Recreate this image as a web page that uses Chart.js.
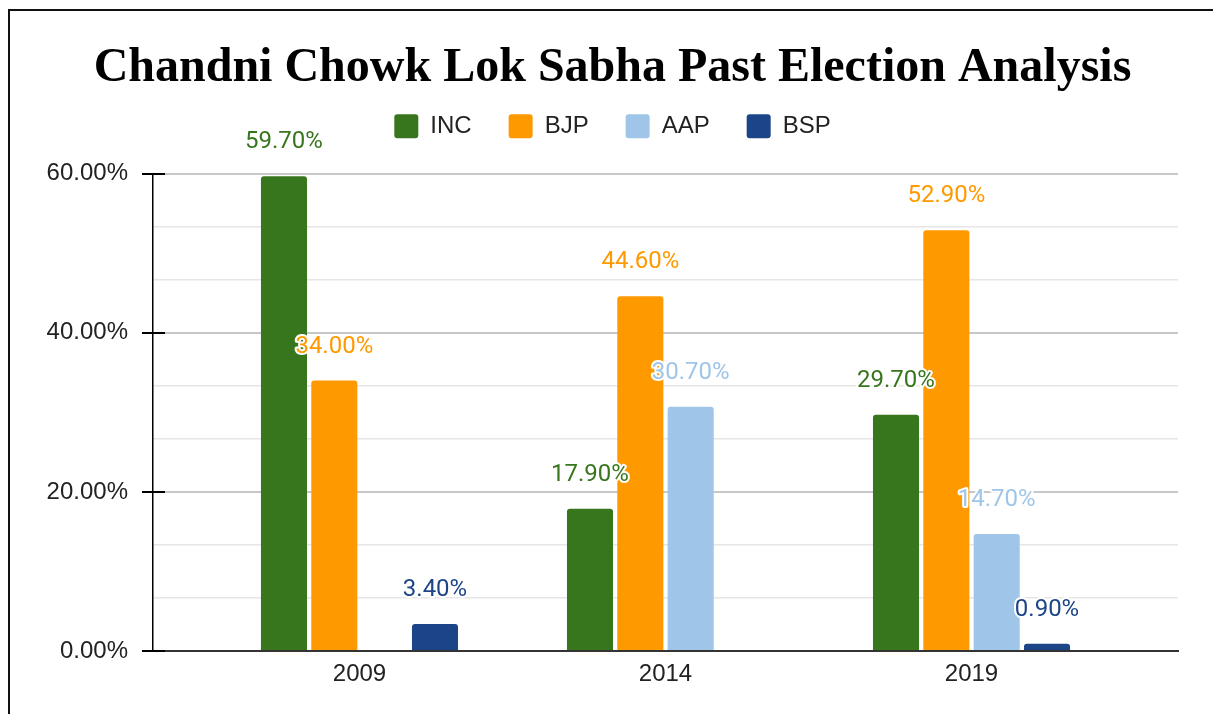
<!DOCTYPE html>
<html><head><meta charset="utf-8">
<script src="https://cdn.jsdelivr.net/npm/chart.js@4.4.1/dist/chart.umd.min.js"></script>
<style>
html,body{margin:0;padding:0;background:#fff;overflow:hidden;width:1213px;height:714px;}
#frame{position:absolute;left:8px;top:9px;width:1400px;height:900px;border:2px solid #111;}
#wrap{position:absolute;left:0;top:0;width:1213px;height:714px;}
</style></head><body>
<div id="frame"></div>
<div id="wrap"><canvas id="c" width="1213" height="714"></canvas></div>
<script>
const categories = ['2009', '2014', '2019'];
const seriesNames = ['INC', 'BJP', 'AAP', 'BSP'];
const incShare = [59.7, 17.9, 29.7];
const bjpShare = [34.0, 44.6, 52.9];
const aapShare = [null, 30.7, 14.7];
const bspShare = [3.4, null, 0.9];
const yTickLabels = ['0.00%', '20.00%', '40.00%', '60.00%'];
const titleText = 'Chandni Chowk Lok Sabha Past Election Analysis';

const colors = ['#38761d', '#ff9900', '#9fc5e8', '#1c4587'];
const allSeries = [incShare, bjpShare, aapShare, bspShare];

const toPoints = arr => arr.map((v, i) => ({x: i, y: v}));
const isMajor = v => Math.abs(v / 20 - Math.round(v / 20)) < 1e-6;

const dataLabelPlugin = {
  id: 'dataLabels',
  afterDatasetsDraw(chart) {
    const ctx = chart.ctx;
    ctx.save();
    ctx.font = '24px Roboto';
    ctx.textAlign = 'center';
    ctx.textBaseline = 'alphabetic';
    ctx.lineJoin = 'round';
    chart.data.datasets.forEach((ds, di) => {
      const meta = chart.getDatasetMeta(di);
      meta.data.forEach((el, i) => {
        const v = ds.data[i].y;
        if (v === null || v === undefined) return;
        const txt = v.toFixed(2) + '%';
        const y = el.y - 28;
        ctx.strokeStyle = '#ffffff';
        ctx.lineWidth = 4;
        ctx.strokeText(txt, el.x, y);
        ctx.fillStyle = colors[di];
        ctx.fillText(txt, el.x, y);
      });
    });
    ctx.restore();
  }
};

const innerTickPlugin = {
  id: 'innerTicks',
  afterDraw(chart) {
    const ctx = chart.ctx;
    const ys = chart.scales.y;
    const left = chart.chartArea.left;
    ctx.save();
    ctx.strokeStyle = '#000';
    ctx.lineWidth = 2;
    ys.ticks.forEach(t => {
      if (!isMajor(t.value)) return;
      const py = Math.round(ys.getPixelForValue(t.value));
      ctx.beginPath();
      ctx.moveTo(left - 11, py);
      ctx.lineTo(left + 12, py);
      ctx.stroke();
    });
    ctx.restore();
  }
};

new Chart(document.getElementById('c'), {
  type: 'bar',
  data: {
    datasets: seriesNames.map((name, i) => ({
      label: name,
      data: toPoints(allSeries[i]),
      backgroundColor: colors[i],
      borderWidth: 0,
      borderRadius: 3,
      categoryPercentage: 0.658,
      barPercentage: 0.915
    }))
  },
  options: {
    responsive: false,
    animation: false,
    layout: {padding: {left: 47, right: 35, top: 0, bottom: 23}},
    plugins: {
      title: {
        display: true,
        text: titleText,
        color: '#000',
        font: {family: '"Liberation Serif", "Times New Roman", serif', size: 48, weight: 'bold', lineHeight: '18px'},
        padding: {top: 59.3, bottom: 0}
      },
      legend: {
        display: true,
        position: 'top',
        labels: {
          boxWidth: 24,
          boxHeight: 24,
          padding: 37,
          color: '#222',
          useBorderRadius: true,
          borderRadius: 3,
          font: {family: '"Liberation Sans", Arial, sans-serif', size: 24}
        }
      },
      subtitle: {
        display: true,
        text: ' ',
        weight: 500,
        position: 'top',
        padding: 0,
        font: {size: 2, lineHeight: '25.5px'}
      },
      tooltip: {enabled: false}
    },
    scales: {
      x: {
        type: 'linear',
        position: 'bottom',
        offset: false,
        bounds: 'ticks',
        min: -0.6748,
        max: 2.6748,
        afterDataLimits: s => { s.min = -0.6748; s.max = 2.6748; },
        afterBuildTicks: s => { s.ticks = categories.map((c, i) => ({value: i})); },
        afterFit: s => { s.height = 40; },
        ticks: {
          autoSkip: false,
          maxRotation: 0,
          padding: 9,
          color: '#222',
          font: {family: '"Liberation Sans", Arial, sans-serif', size: 24},
          callback: v => categories[v]
        },
        grid: {display: false, drawTicks: false, offset: false},
        border: {display: true, color: '#333', width: 2}
      },
      y: {
        min: 0,
        max: 60,
        afterBuildTicks: s => {
          const t = [];
          for (let i = 0; i <= 9; i++) t.push({value: i * 20 / 3});
          s.ticks = t;
        },
        afterFit: s => { s.width = 106; },
        ticks: {
          padding: 14,
          color: '#222',
          font: {family: '"Liberation Sans", Arial, sans-serif', size: 24},
          callback: v => isMajor(v) ? yTickLabels[Math.round(v / 20)] : ''
        },
        grid: {
          drawTicks: true,
          tickLength: 11,
          tickWidth: 2,
          tickColor: c => isMajor(c.tick.value) ? '#000' : 'rgba(0,0,0,0)',
          color: c => c.tick.value === 0 ? '#333' : (isMajor(c.tick.value) ? '#c8c8c8' : '#e6e6e6'),
          lineWidth: c => c.tick.value === 0 ? 2 : (isMajor(c.tick.value) ? 2 : 1.5)
        },
        border: {display: true, color: '#000', width: 1.5}
      }
    }
  },
  plugins: [dataLabelPlugin, innerTickPlugin]
});
</script>
</body></html>
